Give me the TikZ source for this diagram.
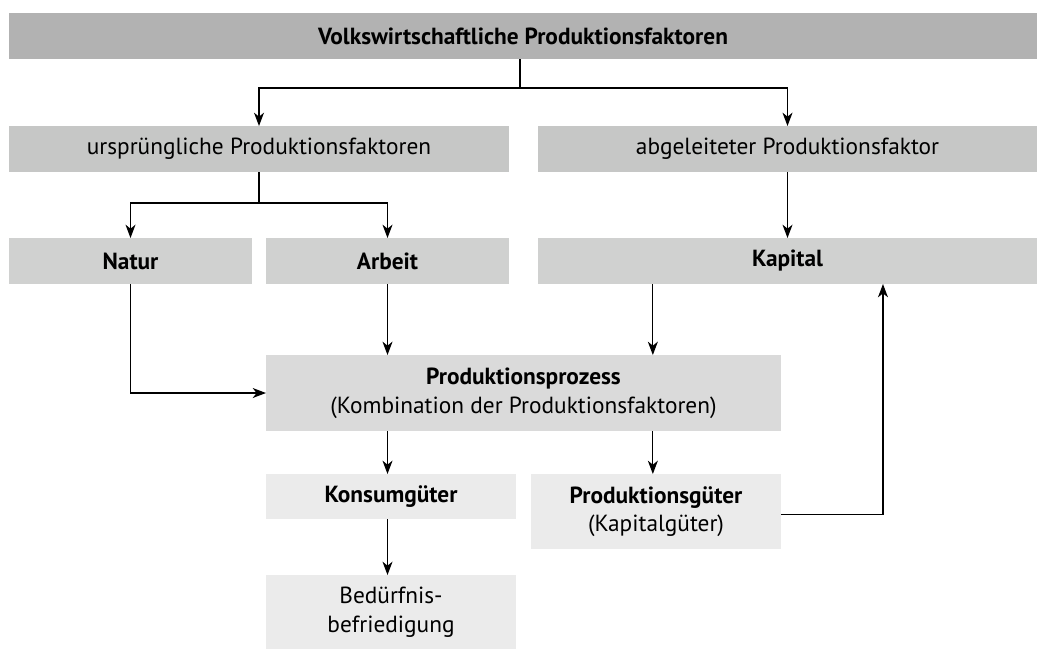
\documentclass[tikz,border=0pt]{standalone}
\usepackage{fontspec}
\setmainfont{PT Sans}
\usetikzlibrary{arrows.meta}
\definecolor{gA}{HTML}{B2B2B2}
\definecolor{gB}{HTML}{C6C7C6}
\definecolor{gC}{HTML}{D0D1D0}
\definecolor{gD}{HTML}{DADADA}
\definecolor{gE}{HTML}{EBEBEB}
\begin{document}
\begin{tikzpicture}[x=0.75pt,y=-0.75pt,
  box/.style={inner sep=0pt, outer sep=0pt, align=center, font=\fontsize{17.5}{21.5}\selectfont},
  arr/.style={-{Stealth[length=10pt,width=7.5pt,inset=3pt]}, line width=0.9pt},
  ln/.style={line width=0.9pt}]
\useasboundingbox (0,0) rectangle (1037,668);
\node[box, fill=gA, minimum width=771pt, minimum height=34.5pt] (top) at (523,36) {\bfseries Volkswirtschaftliche Produktionsfaktoren};
\node[box, fill=gB, minimum width=375pt, minimum height=34.5pt] (u) at (259,149) {ursprüngliche Produktionsfaktoren};
\node[box, fill=gB, minimum width=374.25pt, minimum height=34.5pt] (a) at (787.5,149) {abgeleiteter Produktionsfaktor};
\node[box, fill=gC, minimum width=182.25pt, minimum height=34.5pt] (natur) at (130.5,261) {\bfseries Natur};
\node[box, fill=gC, minimum width=182.25pt, minimum height=34.5pt] (arbeit) at (387.5,261) {\bfseries Arbeit};
\node[box, fill=gC, minimum width=374.25pt, minimum height=34.5pt] (kapital) at (787.5,261) {\bfseries Kapital};
\node[box, fill=gD, minimum width=386.25pt, minimum height=57pt] (proz) at (523.5,393) {\bfseries Produktionsprozess\\(Kombination der Produktionsfaktoren)};
\node[box, fill=gE, minimum width=187.5pt, minimum height=33.75pt] (konsum) at (391,496.5) {\bfseries Konsumgüter};
\node[box, fill=gE, minimum width=187.5pt, minimum height=56.25pt] (prodg) at (656,511.5) {{\bfseries Produktionsgüter}\\(Kapitalgüter)};
\node[box, fill=gE, minimum width=187.5pt, minimum height=55.5pt] (bed) at (391,612) {Bedürfnis-\\befriedigung};
\coordinate (j1) at (520,88);
\coordinate (j2) at (259,203);
\draw[ln] (j1 |- top.south) -- (j1);
\draw[arr] (j1) -| (u.north);
\draw[arr] (j1) -| (a.north);
\draw[ln] (u.south) -- (j2);
\draw[arr] (j2) -| (natur.north);
\draw[arr] (j2) -| (arbeit.north);
\draw[arr] (a.south) -- (kapital.north);
\draw[arr] (natur.south) |- (proz.west);
\draw[arr] (arbeit.south) -- (arbeit.south |- proz.north);
\draw[arr] ([xshift=-101pt]kapital.south) -- ([xshift=-101pt]kapital.south |- proz.north);
\draw[arr] (proz.south -| arbeit.south) -- (konsum.north -| arbeit.south);
\draw[arr] (konsum.south -| arbeit.south) -- (bed.north -| arbeit.south);
\draw[arr] ([xshift=-101pt]kapital.south |- proz.south) -- ([xshift=-101pt]kapital.south |- prodg.north);
\draw[arr] ([yshift=-2.5pt]prodg.east) -| ([xshift=71.6pt]kapital.south);
\end{tikzpicture}
\end{document}
